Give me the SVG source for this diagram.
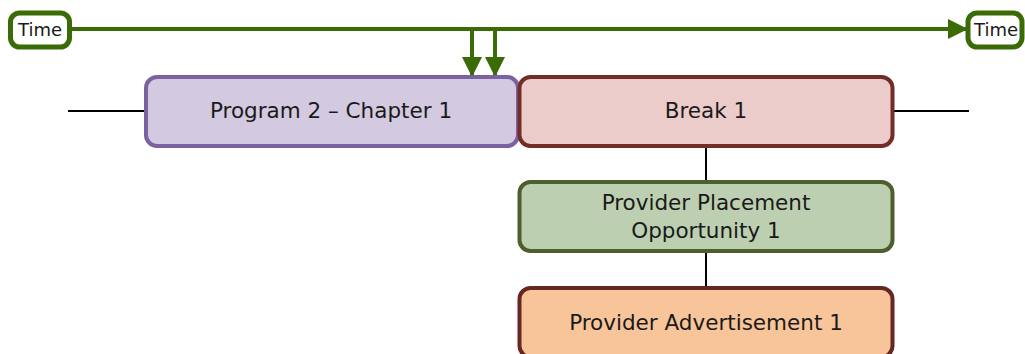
<svg xmlns="http://www.w3.org/2000/svg" width="1025" height="354" viewBox="0 0 1025 354">
<defs>
<style>
text{font-family:"DejaVu Sans","Liberation Sans",sans-serif;fill:#1a1a1a;text-anchor:middle;dominant-baseline:central}
.lbl{font-size:21.5px}
.t{font-size:18px}
.thin{stroke:#000;stroke-width:2;fill:none}
.grn{stroke:#3b6b06;stroke-width:4;fill:none}
</style>
<marker id="ah" viewBox="0 0 10 10" refX="9" refY="5" markerWidth="5" markerHeight="5" markerUnits="strokeWidth" orient="auto"><path d="M0,0 L10,5 L0,10 z" fill="#3b6b06"/></marker>
</defs>
<g id="connectors">
<line class="thin" x1="68" y1="111" x2="146" y2="111"/>
<line class="thin" x1="892" y1="111" x2="969" y2="111"/>
<line class="thin" x1="706" y1="147" x2="706" y2="182"/>
<line class="thin" x1="706" y1="252" x2="706" y2="288"/>
<line class="grn" x1="70" y1="29" x2="966" y2="29" marker-end="url(#ah)"/>
<line class="grn" x1="472" y1="29" x2="472" y2="75" marker-end="url(#ah)"/>
<line class="grn" x1="495" y1="29" x2="495" y2="75" marker-end="url(#ah)"/>
</g>
<g id="time-left">
<rect x="10.5" y="13" width="59" height="34" rx="9" fill="#fff" stroke="#3b6b06" stroke-width="5"/>
<text class="t" x="40" y="29">Time</text>
</g>
<g id="time-right">
<rect x="968" y="13" width="54" height="34" rx="9" fill="#fff" stroke="#3b6b06" stroke-width="5"/>
<text class="t" x="996" y="29">Time</text>
</g>
<g id="program">
<rect x="146" y="77" width="372" height="69" rx="11" fill="#d3c9e0" stroke="#7b62a0" stroke-width="4"/>
<text class="lbl" x="331" y="110">Program 2 – Chapter 1</text>
</g>
<g id="break">
<rect x="519.5" y="77" width="373" height="69" rx="11" fill="#ecccca" stroke="#722d28" stroke-width="4"/>
<text class="lbl" x="706" y="110">Break 1</text>
</g>
<g id="ppo">
<rect x="519.5" y="182" width="373" height="69" rx="11" fill="#bccfb0" stroke="#4e5e2c" stroke-width="4"/>
<text class="lbl" x="706" y="202">Provider Placement</text>
<text class="lbl" x="706" y="230">Opportunity 1</text>
</g>
<g id="ad">
<rect x="519.5" y="288" width="373" height="69" rx="11" fill="#f8c59a" stroke="#662722" stroke-width="4"/>
<text class="lbl" x="706" y="322">Provider Advertisement 1</text>
</g>
</svg>
